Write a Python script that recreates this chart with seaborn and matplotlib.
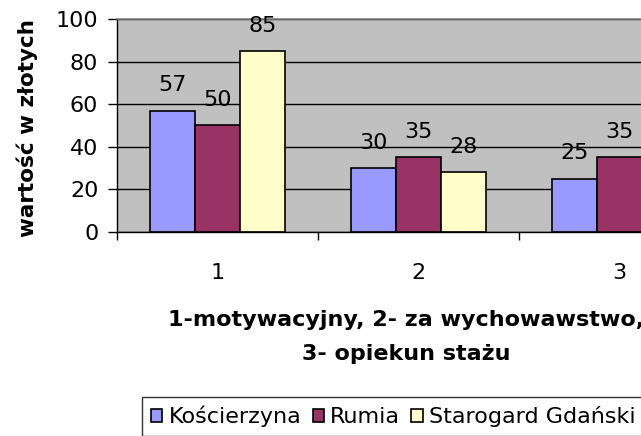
import matplotlib
matplotlib.use("Agg")
import matplotlib.pyplot as plt
import seaborn as sns
import pandas as pd

# data (third Starogard bar is cut off in the source, estimated)
categories = ["1", "2", "3"]
cities = ["Kościerzyna", "Rumia", "Starogard Gdański"]
koscierzyna = [57, 30, 25]
rumia = [50, 35, 35]
starogard = [85, 28, 30]
colors = ["#9999FF", "#993366", "#FFFFCC"]

df = pd.DataFrame({
    "kategoria": categories * 3,
    "miasto": [cities[0]] * 3 + [cities[1]] * 3 + [cities[2]] * 3,
    "wartosc": koscierzyna + rumia + starogard,
})

sns.set_theme(style="white")
plt.rcParams["font.family"] = ["DejaVu Sans"]
plt.rcParams["text.color"] = "black"
plt.rcParams["axes.labelcolor"] = "black"
plt.rcParams["xtick.color"] = "black"
plt.rcParams["ytick.color"] = "black"
fs = 16

fig = plt.figure(figsize=(6.41, 4.36), dpi=100)
# plot area runs past the right edge, like the cropped original
ax = fig.add_axes([117 / 641, 1 - 232 / 436, 603 / 641, 213 / 436])

sns.barplot(data=df, x="kategoria", y="wartosc", hue="miasto", palette=colors,
            edgecolor="black", linewidth=1.2, width=0.667, gap=0, ax=ax,
            saturation=1)

ax.set_facecolor("#C0C0C0")
ax.set_xlim(-0.5, 2.5)
ax.set_ylim(0, 100)
ax.set_yticks([0, 20, 40, 60, 80, 100])
ax.yaxis.grid(True, color="black", linewidth=1)
ax.set_axisbelow(True)

for c in ax.containers:
    ax.bar_label(c, fmt="%d", padding=11, fontsize=fs)

ax.set_xticks([-0.5, 0.5, 1.5, 2.5])
ax.set_xticklabels([])
ax.set_xticks([0, 1, 2], minor=True)
ax.set_xticklabels(categories, minor=True)
ax.tick_params(axis="x", which="major", direction="out", length=6, width=1, color="black", bottom=True)
ax.tick_params(axis="x", which="minor", length=0, pad=22, labelsize=fs, bottom=True)
ax.tick_params(axis="y", direction="out", length=6.5, width=1, color="black", pad=7, labelsize=fs, left=True)

for s in ["left", "bottom"]:
    ax.spines[s].set_color("black")
    ax.spines[s].set_linewidth(1)
ax.spines["top"].set_color("#808080")
ax.spines["top"].set_linewidth(1.2)
ax.spines["right"].set_visible(False)

ax.set_ylabel("wartość w złotych", fontsize=fs - 0.5, fontweight="bold")
ax.yaxis.set_label_coords(-0.131, 0.49)
ax.set_xlabel("1-motywacyjny, 2- za wychowawstwo,\n3- opiekun stażu", fontsize=fs,
              fontweight="bold", linespacing=1.9)
ax.xaxis.set_label_coords(0.479, -0.365)

handles, labels = ax.get_legend_handles_labels()
ax.get_legend().remove()
leg = fig.legend(handles, labels, loc="upper left", bbox_to_anchor=(142 / 641, 1 - 397 / 436),
                 ncol=3, fontsize=fs, frameon=True, fancybox=False, edgecolor="black",
                 handlelength=0.5, handleheight=0.5, handletextpad=0.3, columnspacing=0.5,
                 borderpad=0.4, borderaxespad=0)
leg.get_frame().set_linewidth(1)

fig.savefig("out.png", dpi=100)
